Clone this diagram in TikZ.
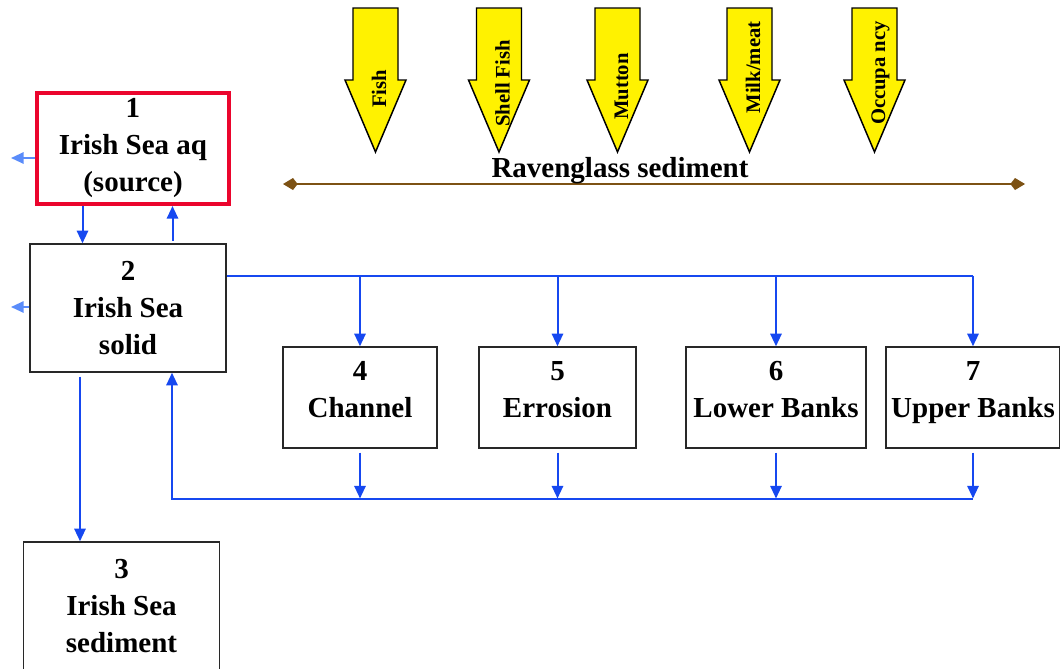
\documentclass[tikz,border=0pt]{standalone}
\usepackage{fontspec}
\setmainfont{Liberation Serif}
\usetikzlibrary{arrows.meta}
\definecolor{flowblue}{RGB}{22,72,240}
\definecolor{leakblue}{RGB}{90,140,250}
\definecolor{srcred}{RGB}{235,5,45}
\definecolor{linkbrown}{RGB}{125,82,20}
\definecolor{boxgray}{RGB}{40,40,40}
\newcommand{\lowstrut}{\rule[-12pt]{0pt}{12pt}}

\begin{document}
\begin{tikzpicture}[x=0.75pt,y=-0.75pt,
    box/.style={draw=boxgray,line width=1.1pt,inner sep=0pt,align=center,
      font=\fontsize{21.75}{27.75}\selectfont\bfseries},
    flow/.style={draw=flowblue,line width=1.5pt,-{Triangle[length=9.5pt,width=8.5pt]}},
    leak/.style={draw=leakblue,line width=1.5pt,-{Triangle[length=9.5pt,width=8.5pt]}},
    food/.style={draw=black,fill=yellow,line width=1.1pt,line join=miter},
    foodlabel/.style={rotate=90,anchor=base,inner sep=0pt,
      font=\fontsize{15.5}{18}\selectfont\bfseries},
    ravspan/.style={draw=linkbrown,line width=1.5pt,
      {Kite[length=11pt,width=9pt,inset=3.5pt]}-{Kite[length=11pt,width=9pt,inset=3.5pt]}}]
    \useasboundingbox (0,0) rectangle (1060,668);
    \clip (0,0) rectangle (1060,668);

    \node[box,draw=srcred,line width=3pt,minimum width=144pt,minimum height=83.25pt] (b1) at (133,148.5) {1\\Irish Sea aq\\(source)};
    \node[box,minimum width=147pt,minimum height=96pt] (b2) at (128,308) {2\\Irish Sea\\solid};
    \node[box,minimum width=147pt,minimum height=96pt] (b3) at (121.5,606) {3\\Irish Sea\\sediment};
    \node[box,minimum width=115.5pt,minimum height=75.75pt] (b4) at (360,397.5) {4\\Channel\lowstrut};
    \node[box,minimum width=117.75pt,minimum height=75.75pt] (b5) at (557.5,397.5) {5\\Errosion\lowstrut};
    \node[box,minimum width=135pt,minimum height=75.75pt] (b6) at (776,397.5) {6\\Lower Banks\lowstrut};
    \node[box,minimum width=130.5pt,minimum height=75.75pt] (b7) at (973,397.5) {7\\Upper Banks\lowstrut};

    \coordinate (out1) at (11,158);
    \coordinate (out2) at (11,307);
    \coordinate (topbus) at (973,275.5);
    \coordinate (botbus) at (973,498.5);
    \coordinate (ret) at (172,498.5);

    \draw[flow] (b1.south -| 82.5,0) -- (b2.north -| 82.5,0);
    \draw[flow,shorten <=2pt] (b2.north -| 172.5,0) -- (b1.south -| 172.5,0);
    \draw[leak] (b1.west |- out1) -- (out1);
    \draw[leak] (b2.west |- out2) -- (out2);
    \draw[flow,-] (b2.east |- topbus) -- (topbus);
    \foreach \b in {b4,b5,b6,b7}
        \draw[flow] (\b.north |- topbus) -- (\b.north);
    \foreach \b in {b4,b5,b6,b7}
        \draw[flow,shorten <=3pt] (\b.south) -- (\b.south |- botbus);
    \draw[flow] (botbus) -- (ret) -- (b2.south -| ret);
    \draw[flow,shorten <=3pt] (b2.south -| 80,0) -- (b3.north -| 80,0);

    \coordinate (ravL) at (283,184);
    \coordinate (ravR) at (1025,184);
    \draw[ravspan] (ravL) -- (ravR);
    \node[font=\fontsize{21.75}{27.75}\selectfont\bfseries] (rav) at (620,171) {Ravenglass sediment};

    \foreach \x/\what/\ty [count=\i] in {375.5/Fish/89, 499/Shell Fish/83.5, 617.5/Mutton/86.5, 749.5/{Milk/meat}/67.5, 874.5/Occupa ncy/73} {
        \draw[food] (\x-22.5,8) -- (\x+22.5,8) -- (\x+22.5,80) -- (\x+30.5,80) -- (\x,152) -- (\x-30.5,80) -- (\x-22.5,80) -- cycle;
        \node[foodlabel] (f\i) at (\x+10.5,\ty) {\what};
    }
\end{tikzpicture}
\end{document}
